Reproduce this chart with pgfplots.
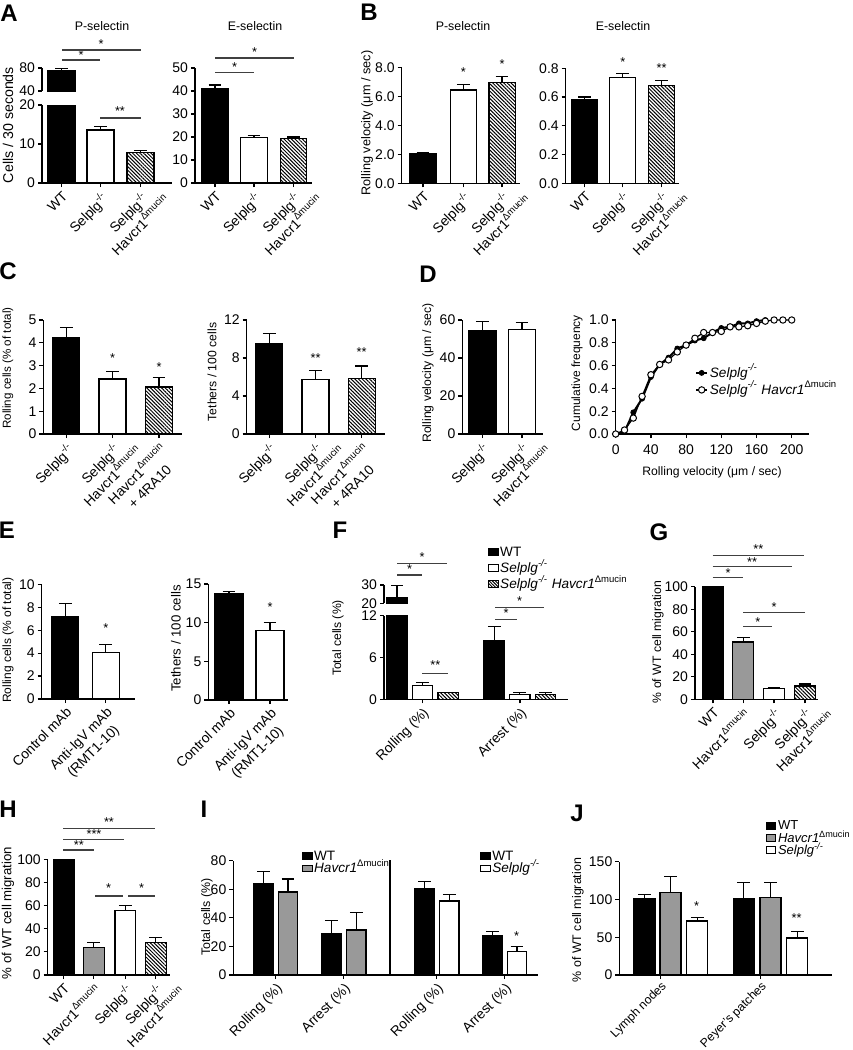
\documentclass[border=0pt]{standalone}
\usepackage{fontspec}
\setmainfont{Liberation Sans}
\usepackage{pgfplots}
\pgfplotsset{compat=1.18}
\usetikzlibrary{patterns.meta}
\definecolor{gbar}{gray}{0.6}
\newcommand\sel{Selplg\textsuperscript{-/-}}
\newcommand\hav{Havcr1\textsuperscript{Δmucin}}
\newcommand\seli{\textit{Selplg\textsuperscript{-/-}}}
\newcommand\havi{\textit{Havcr1}\textsuperscript{Δmucin}}
\newcommand\tk{\fontsize{7}{8}\selectfont}
\newcommand\xl{\fontsize{6.9}{8.6}\selectfont}
\newcommand\lgf{\fontsize{6.8}{7.5}\selectfont}
\newcommand\yl[1]{\fontsize{#1}{#1}\selectfont}
\pgfplotsset{
  gp/.style={
    scale only axis, anchor=south west,
    axis x line*=bottom, axis y line*=left,
    axis line style={line width=0.6pt,-},
    tick style={line width=0.6pt, black},
    tick align=outside, major tick length=2pt,
    enlargelimits=false, ymin=0,
    yticklabel style={font=\tk, /pgf/number format/assume math mode=true, inner sep=1.3pt},
  },
  catx/.style={
    xticklabel style={font=\xl, rotate=45, anchor=north east, align=center, inner sep=1pt},
  },
  bk/.style={ybar, bar shift=0pt, fill=black, draw=black, line width=0.6pt},
  wh/.style={ybar, bar shift=0pt, fill=white, draw=black, line width=0.6pt},
  gy/.style={ybar, bar shift=0pt, fill=gbar, draw=black, line width=0.6pt},
  ht/.style={ybar, bar shift=0pt, draw=black, line width=0.6pt, pattern={Lines[angle=-45,distance=1.3pt,line width=0.5pt]}, pattern color=black},
  eb/.style={error bars/y dir=plus, error bars/y explicit,
    error bars/error bar style={line width=0.6pt, black, solid},
    error bars/error mark options={rotate=90, mark size=3.2pt, line width=0.6pt, black}},
  lgbk/.style={legend image code/.code={\draw[fill=black,draw=black,line width=0.5pt] (0pt,-1.6pt) rectangle (4.8pt,1.8pt);}},
  lgwh/.style={legend image code/.code={\draw[fill=white,draw=black,line width=0.5pt] (0pt,-1.6pt) rectangle (4.8pt,1.8pt);}},
  lggy/.style={legend image code/.code={\draw[fill=gbar,draw=black,line width=0.5pt] (0pt,-1.6pt) rectangle (4.8pt,1.8pt);}},
  lght/.style={legend image code/.code={\draw[pattern={Lines[angle=-45,distance=1.1pt,line width=0.45pt]},draw=black,line width=0.5pt] (0pt,-1.6pt) rectangle (4.8pt,1.8pt);}},
  lgs/.style={legend cell align=left, legend style={draw=none, fill=none, font=\lgf, inner sep=0pt, outer sep=0pt, anchor=north west, row sep=#1, nodes={inner sep=0.8pt, text height=4.9pt, text depth=0.8pt}}},
}
\begin{document}
\begin{tikzpicture}
\path[use as bounding box] (0pt,0pt) rectangle (426pt,-525pt);
\begin{scope}[x=0.5pt,y=-0.5pt]
\coordinate (pA1) at (42,183);
\coordinate (pA1t) at (42,91);
\coordinate (pA2) at (195,183);
\coordinate (pB1) at (401.7,183.3);
\coordinate (pB2) at (565.7,183.3);
\coordinate (pC1) at (43.3,434);
\coordinate (pC2) at (246.7,434);
\coordinate (pD1) at (462.3,434);
\coordinate (pD2) at (615.7,434);
\coordinate (pE1) at (41.7,699);
\coordinate (pE2) at (208.3,700);
\coordinate (pF) at (384,699.3);
\coordinate (pFt) at (384,603.3);
\coordinate (pG) at (695,699.3);
\coordinate (pH) at (47.7,975);
\coordinate (pI) at (233.3,975);
\coordinate (pJ) at (619.3,975);
\end{scope}

% ---------- A left (broken axis)
\begin{axis}[gp,catx,at={(pA1)},width=65pt,height=39pt,xmin=42,xmax=172,ymax=20,ytick={0,10,20},bar width=27,
  xtick={61.5,100.5,140.5},xticklabels={WT,\sel,{\sel\\\makebox[0pt]{\hav}}}]
\addplot[bk] coordinates {(61.5,76)};
\addplot[wh,eb] coordinates {(100.5,13.6) +- (0,0.8)};
\addplot[ht,eb] coordinates {(140.5,7.8) +- (0,0.5)};
\end{axis}
\begin{axis}[gp,at={(pA1t)},width=65pt,height=11.5pt,xmin=42,xmax=172,ymin=40,ymax=80,ytick={40,80},axis x line=none,bar width=27]
\addplot[bk,eb] coordinates {(61.5,76) +- (0,4)};
\end{axis}
% ---------- A right
\begin{axis}[gp,catx,at={(pA2)},width=58.5pt,height=57.5pt,xmin=195,xmax=312,ymax=50,ytick={0,10,20,30,40,50},bar width=26.5,
  xtick={215,254,293.5},xticklabels={WT,\sel,{\sel\\\makebox[0pt]{\hav}}}]
\addplot[bk,eb] coordinates {(215,40.9) +- (0,1.7)};
\addplot[wh,eb] coordinates {(254,19.7) +- (0,0.9)};
\addplot[ht,eb] coordinates {(293.5,19.3) +- (0,0.7)};
\end{axis}
% ---------- B left
\begin{axis}[gp,catx,at={(pB1)},width=59.2pt,height=57.8pt,xmin=401.7,xmax=520,ymax=8,ytick={0,2,4,6,8},bar width=26,
  yticklabel style={/pgf/number format/fixed,/pgf/number format/fixed zerofill,/pgf/number format/precision=1},
  xtick={423,463.3,502},xticklabels={WT,\sel,{\sel\\\makebox[0pt]{\hav}}}]
\addplot[bk,eb] coordinates {(423,2.03) +- (0,0.09)};
\addplot[wh,eb] coordinates {(463.3,6.46) +- (0,0.39)};
\addplot[ht,eb] coordinates {(502,6.96) +- (0,0.42)};
\end{axis}
% ---------- B right
\begin{axis}[gp,catx,at={(pB2)},width=56.7pt,height=57.5pt,xmin=565.7,xmax=679,ymax=0.8,ytick={0,0.2,0.4,0.6,0.8},bar width=26,
  yticklabel style={/pgf/number format/fixed,/pgf/number format/fixed zerofill,/pgf/number format/precision=1},
  xtick={584.7,622.8,661.5},xticklabels={WT,\sel,{\sel\\\makebox[0pt]{\hav}}}]
\addplot[bk,eb] coordinates {(584.7,0.584) +- (0,0.016)};
\addplot[wh,eb] coordinates {(622.8,0.735) +- (0,0.03)};
\addplot[ht,eb] coordinates {(661.5,0.679) +- (0,0.037)};
\end{axis}
% ---------- C left
\begin{axis}[gp,catx,at={(pC1)},width=69.2pt,height=57pt,xmin=43.3,xmax=181.7,ymax=5,ytick={0,1,2,3,4,5},bar width=27,
  xtick={66.3,112.5,159},xticklabels={\sel,{\sel\\\makebox[0pt]{\hav}},{\hav\\+ 4RA10}}]
\addplot[bk,eb] coordinates {(66.3,4.22) +- (0,0.46)};
\addplot[wh,eb] coordinates {(112.5,2.41) +- (0,0.34)};
\addplot[ht,eb] coordinates {(159,2.06) +- (0,0.41)};
\end{axis}
% ---------- C right
\begin{axis}[gp,catx,at={(pC2)},width=69.2pt,height=57pt,xmin=246.7,xmax=385,ymax=12,ytick={0,4,8,12},bar width=27,
  xtick={269.3,315.5,361.7},xticklabels={\sel,{\sel\\\makebox[0pt]{\hav}},{\hav\\+ 4RA10}}]
\addplot[bk,eb] coordinates {(269.3,9.55) +- (0,1.05)};
\addplot[wh,eb] coordinates {(315.5,5.75) +- (0,0.92)};
\addplot[ht,eb] coordinates {(361.7,5.83) +- (0,1.33)};
\end{axis}
% ---------- D left
\begin{axis}[gp,catx,at={(pD1)},width=40.5pt,height=57pt,xmin=462.3,xmax=543.3,ymax=60,ytick={0,20,40,60},bar width=27.5,
  xtick={482.2,522},xticklabels={\sel,{\sel\\\makebox[0pt]{\hav}}}]
\addplot[bk,eb] coordinates {(482.2,54.4) +- (0,4.7)};
\addplot[wh,eb] coordinates {(522,55.1) +- (0,3.5)};
\end{axis}
% ---------- D right (cumulative)
\begin{axis}[gp,at={(pD2)},width=96.8pt,height=57pt,xmin=0,xmax=220,ymax=1,clip=false,
  xtick={0,40,80,120,160,200},ytick={0,0.2,0.4,0.6,0.8,1},
  xticklabel style={font=\tk,/pgf/number format/assume math mode=true},
  yticklabel style={/pgf/number format/fixed,/pgf/number format/fixed zerofill,/pgf/number format/precision=1},
  lgs=1.2pt, legend style={at={(axis description cs:0.41,0.60)}},
  legend image code/.code={\draw[mark repeat=2,mark phase=2,#1] plot coordinates {(0pt,0pt) (2.8pt,0pt) (5.6pt,0pt)};}]
\addplot[black,line width=1pt,mark=*,mark size=1.25pt,mark options={solid,fill=black,line width=0.4pt}] coordinates {
(0,0) (10,0.02) (20,0.19) (30,0.31) (40,0.50) (50,0.61) (60,0.67) (70,0.75) (80,0.78) (90,0.82) (100,0.84) (110,0.89) (120,0.93) (130,0.94) (140,0.97) (150,0.97) (160,0.99) (170,1.0)};
\addlegendentry{\seli}
\addplot[black,line width=0.6pt,mark=*,mark size=1.6pt,mark options={solid,fill=white,line width=0.5pt}] coordinates {
(0,0) (10,0.035) (20,0.14) (30,0.33) (40,0.52) (50,0.61) (60,0.65) (70,0.72) (80,0.78) (90,0.84) (100,0.89) (110,0.89) (120,0.90) (130,0.94) (140,0.94) (150,0.95) (160,0.97) (170,0.99) (180,1.0) (190,1.0) (200,1.0)};
\addlegendentry{\seli\ \havi}
\end{axis}
% ---------- E left
\begin{axis}[gp,catx,at={(pE1)},width=46.7pt,height=57.3pt,xmin=41.7,xmax=135,ymax=10,ytick={0,2,4,6,8,10},bar width=27,
  xtick={65.3,105.8},xticklabels={Control mAb,{Anti-IgV mAb\\(RMT1-10)}}]
\addplot[bk,eb] coordinates {(65.3,7.18) +- (0,1.16)};
\addplot[wh,eb] coordinates {(105.8,4.07) +- (0,0.70)};
\end{axis}
% ---------- E right
\begin{axis}[gp,catx,at={(pE2)},width=39.9pt,height=58pt,xmin=208.3,xmax=288,ymax=15,ytick={0,5,10,15},bar width=28,
  xtick={229,270},xticklabels={Control mAb,{Anti-IgV mAb\\(RMT1-10)}}]
\addplot[bk,eb] coordinates {(229,13.7) +- (0,0.3)};
\addplot[wh,eb] coordinates {(270,9.0) +- (0,1.05)};
\end{axis}
% ---------- F (broken axis)
\begin{axis}[gp,catx,at={(pF)},width=92.2pt,height=41.8pt,xmin=384,xmax=568.3,ymax=12,ytick={0,6,12},bar width=20.5,
  xtick={422.3,520},xticklabels={Rolling (\%),Arrest (\%)},
  lgs=0.8pt, legend style={at={(axis description cs:0.564,1.85)}}]
\addplot[bk,forget plot] coordinates {(397,23.1)};
\addplot[bk,eb,forget plot] coordinates {(494.2,8.36) +- (0,2.04)};
\addplot[wh,eb,forget plot] coordinates {(422.5,1.95) +- (0,0.49) (519.7,0.72) +- (0,0.28)};
\addplot[ht,eb,forget plot] coordinates {(448.3,0.95) +- (0,0.0) (545.3,0.72) +- (0,0.28)};
\addlegendimage{lgbk}\addlegendentry{WT}
\addlegendimage{lgwh}\addlegendentry{\seli}
\addlegendimage{lght}\addlegendentry{\seli\ \havi}
\end{axis}
\begin{axis}[gp,at={(pFt)},width=92.2pt,height=9.15pt,xmin=384,xmax=568.3,ymin=20,ymax=30,ytick={20,30},axis x line=none,bar width=20.5]
\addplot[bk,eb] coordinates {(397,23.1) +- (0,6.9)};
\end{axis}
% ---------- G
\begin{axis}[gp,catx,at={(pG)},width=61.7pt,height=56.3pt,xmin=695,xmax=818.3,ymax=100,ytick={0,20,40,60,80,100},bar width=21,
  xtick={713,743.3,774,805},xticklabels={WT,\hav,\sel,{\sel\\\makebox[0pt]{\hav}}}]
\addplot[bk] coordinates {(713,100)};
\addplot[gy,eb] coordinates {(743.3,50.9) +- (0,4.1)};
\addplot[wh,eb] coordinates {(774,9.8) +- (0,0.9)};
\addplot[ht,eb] coordinates {(805,11.8) +- (0,1.8)};
\end{axis}
% ---------- H
\begin{axis}[gp,catx,at={(pH)},width=61.2pt,height=57.8pt,xmin=47.7,xmax=170,ymax=100,ytick={0,20,40,60,80,100},bar width=20.7,
  xtick={63.7,93.8,125.3,155.8},xticklabels={WT,\hav,\sel,{\sel\\\makebox[0pt]{\hav}}}]
\addplot[bk] coordinates {(63.7,100)};
\addplot[gy,eb] coordinates {(93.8,23.6) +- (0,4.3)};
\addplot[wh,eb] coordinates {(125.3,55.6) +- (0,4.3)};
\addplot[ht,eb] coordinates {(155.8,27.9) +- (0,4.3)};
\end{axis}
% ---------- I
\begin{axis}[gp,catx,at={(pI)},width=152.5pt,height=57.2pt,xmin=233.3,xmax=538.3,ymax=80,ytick={0,20,40,60,80},bar width=19.5,
  xtick={275.8,343.8,436.8,504.8},xticklabels={Rolling (\%),Arrest (\%),Rolling (\%),Arrest (\%)},
  lgs=-1.2pt, legend style={at={(axis description cs:0.225,1.10)}}]
\addplot[bk,eb,forget plot] coordinates {(263.7,64.1) +- (0,8.2) (331.3,29.1) +- (0,8.9)};
\addplot[gy,eb,forget plot] coordinates {(288,58) +- (0,9.1) (356.3,31.5) +- (0,12.1)};
\addlegendimage{lgbk}\addlegendentry{WT}
\addlegendimage{lggy}\addlegendentry{\havi}
\end{axis}
\begin{axis}[gp,at={(pI)},width=152.5pt,height=57.2pt,xmin=233.3,xmax=538.3,ymax=80,hide axis,bar width=19.5,
  lgs=-1.2pt, legend style={at={(axis description cs:0.809,1.10)}}]
\addplot[bk,eb,forget plot] coordinates {(424.7,60.4) +- (0,4.9) (492.5,27.5) +- (0,2.8)};
\addplot[wh,eb,forget plot] coordinates {(449.2,51.7) +- (0,4.7) (517,16.6) +- (0,3.2)};
\addlegendimage{lgbk}\addlegendentry{WT}
\addlegendimage{lgwh}\addlegendentry{\seli}
\end{axis}
% ---------- J
\begin{axis}[gp,catx,at={(pJ)},width=106.2pt,height=56.7pt,xmin=619.3,xmax=831.7,ymax=150,ytick={0,50,100,150},bar width=21,
  xtick={660.5,760.5},xticklabels={Lymph nodes,Peyer's patches},
  xticklabel style={font=\fontsize{6.1}{7.5}\selectfont, inner sep=0.4pt},
  lgs=-1.2pt, legend style={at={(axis description cs:0.69,1.38)}, font=\fontsize{6.5}{7.5}\selectfont}]
\addplot[bk,eb,forget plot] coordinates {(644.5,100.6) +- (0,5.4) (743.8,100.6) +- (0,21.4)};
\addplot[gy,eb,forget plot] coordinates {(670.5,109) +- (0,21) (770.5,102) +- (0,20.7)};
\addplot[wh,eb,forget plot] coordinates {(697.2,71.5) +- (0,4.9) (797.2,49) +- (0,8.9)};
\addlegendimage{lgbk}\addlegendentry{WT}
\addlegendimage{lggy}\addlegendentry{\havi}
\addlegendimage{lgwh}\addlegendentry{\seli}
\end{axis}

% ---------- annotations (pixel coordinates)
\begin{scope}[x=0.5pt,y=-0.5pt]
\tikzset{br/.style={line width=0.55pt, black!75}, st/.style={font=\fontsize{6.4}{6}\selectfont, inner sep=0pt},
  pl/.style={font=\fontsize{12}{12}\selectfont\bfseries, inner sep=0pt},
  ti/.style={font=\fontsize{6.2}{7}\selectfont, inner sep=0pt},
  yy/.style={rotate=90, inner sep=0pt}}
% panel letters
\node[pl] at (9,13) {A};
\node[pl] at (369,12) {B};
\node[pl] at (8,271) {C};
\node[pl] at (428,274) {D};
\node[pl] at (7,530) {E};
\node[pl] at (340,530) {F};
\node[pl] at (659,532) {G};
\node[pl] at (8,809) {H};
\node[pl] at (204,809) {I};
\node[pl] at (577,813) {J};
% titles
\node[ti] at (102,26) {P-selectin};
\node[ti] at (255,26) {E-selectin};
\node[ti] at (463,26) {P-selectin};
\node[ti] at (623,26) {E-selectin};
% y labels
\node[yy,font=\yl{7.1}] at (8,125) {Cells / 30 seconds};
\node[yy,font=\yl{6.35}] at (367,123) {Rolling velocity (μm / sec)};
\node[yy,font=\yl{5.8}] at (8,368) {Rolling cells (\% of total)};
\node[yy,font=\yl{6.1}] at (212,372) {Tethers / 100 cells};
\node[yy,font=\yl{6.1}] at (428,373) {Rolling velocity (μm / sec)};
\node[yy,font=\yl{6.0}] at (577,373) {Cumulative frequency};
\node[inner sep=0pt,font=\yl{6.1}] at (712,472) {Rolling velocity (μm / sec)};
\node[yy,font=\yl{6.0}] at (8,640) {Rolling cells (\% of total)};
\node[yy,font=\yl{6.6}] at (176,638.5) {Tethers / 100 cells};
\node[yy,font=\yl{6.1}] at (338,638) {Total cells (\%)};
\node[yy,font=\yl{6.1}] at (658,642) {\% of WT cell migration};
\node[yy,font=\yl{6.6}] at (8,913) {\% of WT cell migration};
\node[yy,font=\yl{6.2}] at (207,917) {Total cells (\%)};
\node[yy,font=\yl{6.2}] at (578,920) {\% of WT cell migration};
% A brackets
\draw[br] (62,60) -- (100,60); \node[st] at (81,55) {*};
\draw[br] (62,50) -- (141,50); \node[st] at (101,44) {*};
\draw[br] (100,118) -- (141,118); \node[st] at (120,111) {**};
\draw[br] (215,72.7) -- (254,72.7); \node[st] at (234.5,67) {*};
\draw[br] (215,58) -- (294,58); \node[st] at (254.5,52) {*};
% B stars
\node[st] at (463.3,72) {*};
\node[st] at (502,64) {*};
\node[st] at (622.8,62) {*};
\node[st] at (661.5,68.5) {**};
% C stars
\node[st] at (112.5,358.5) {*};
\node[st] at (159,367) {*};
\node[st] at (315.5,358.5) {**};
\node[st] at (361.7,352) {**};
% E stars
\node[st] at (105.8,628.5) {*};
\node[st] at (270,607.5) {*};
% F brackets
\draw[br] (397,575) -- (422,575); \node[st] at (409.5,569.5) {*};
\draw[br] (397,563.3) -- (447,563.3); \node[st] at (422,557.5) {*};
\draw[br] (422.3,673.3) -- (448.3,673.3); \node[st] at (435.3,665) {**};
\draw[br] (495,619.3) -- (517.3,619.3); \node[st] at (506,613.5) {*};
\draw[br] (495,607.7) -- (544,607.7); \node[st] at (519.5,601.5) {*};
% G brackets
\draw[br] (712.7,555.7) -- (804,555.7); \node[st] at (758.3,549) {**};
\draw[br] (712.7,566.7) -- (791.7,566.7); \node[st] at (752,562) {**};
\draw[br] (712.7,577.3) -- (743.3,577.3); \node[st] at (728,573) {*};
\draw[br] (743.3,626.7) -- (772.3,626.7); \node[st] at (757.8,622) {*};
\draw[br] (743.3,612.7) -- (805,612.7); \node[st] at (774,607) {*};
% H brackets
\draw[br] (63.3,850) -- (94.3,850); \node[st] at (78.8,845.5) {**};
\draw[br] (63.3,839.3) -- (124.3,839.3); \node[st] at (94,834) {***};
\draw[br] (63.3,828.3) -- (155,828.3); \node[st] at (109,822.5) {**};
\draw[br] (95,896) -- (123.3,896); \node[st] at (108.5,888) {*};
\draw[br] (128.3,896) -- (155,896); \node[st] at (141.7,888) {*};
% I separator and star
\draw[line width=0.6pt] (390,860) -- (390,975);
\node[st] at (516.7,936) {*};
% J stars
\node[st] at (696.7,906.5) {*};
\node[st] at (796.7,918) {**};
\end{scope}
\end{tikzpicture}
\end{document}
